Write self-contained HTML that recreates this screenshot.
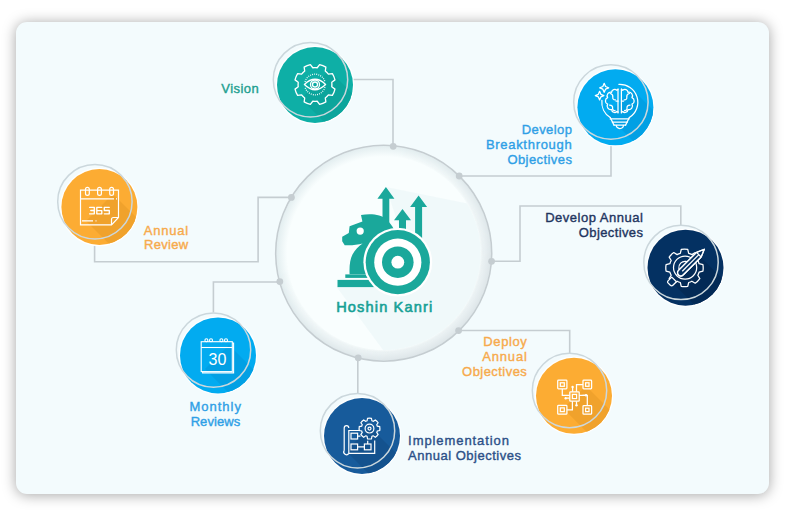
<!DOCTYPE html>
<html><head><meta charset="utf-8">
<style>
html,body{margin:0;padding:0;background:#ffffff;width:795px;height:521px;overflow:hidden;}
.card{position:absolute;left:16px;top:22.3px;width:753px;height:471.5px;border-radius:11px;background:#f3fbfd;box-shadow:0 1px 14px rgba(0,0,0,0.36);}
svg{position:absolute;left:0;top:0;}
text{font-family:"Liberation Sans",sans-serif;font-size:13px;stroke-width:0.38px;}
</style></head>
<body>
<div class="card"></div>
<svg width="795" height="521" viewBox="0 0 795 521">
<defs>

<clipPath id="cc"><circle cx="383.7" cy="253.2" r="97"/></clipPath>
<clipPath id="c_vision"><circle cx="315" cy="85" r="38"/></clipPath>
<clipPath id="c_brk"><circle cx="615.4" cy="107.3" r="38"/></clipPath>
<clipPath id="c_aobj"><circle cx="685.5" cy="267.7" r="38"/></clipPath>
<clipPath id="c_deploy"><circle cx="574" cy="395.8" r="38"/></clipPath>
<clipPath id="c_impl"><circle cx="362" cy="436" r="38"/></clipPath>
<clipPath id="c_monthly"><circle cx="218" cy="355.4" r="38"/></clipPath>
<clipPath id="c_annual"><circle cx="99.4" cy="207" r="38"/></clipPath>
<filter id="ish" x="-20%" y="-20%" width="140%" height="140%"><feDropShadow dx="1.8" dy="1.5" stdDeviation="3" flood-color="#5a7a86" flood-opacity="0.32"/></filter>
</defs>
<g fill="none" stroke="#c5cdd1" stroke-width="1.6">
  <polyline points="347,79.5 393,79.5 393,146"/>
  <polyline points="611,139.7 611,176 459,176"/>
  <polyline points="680.8,225 680.8,206 520,206 520,261.3 491.5,261.3"/>
  <polyline points="569.7,353 569.7,330.5 458.5,330.5"/>
  <polyline points="357.8,394 357.8,358"/>
  <polyline points="213.4,312.5 213.4,282 279.8,282"/>
  <polyline points="94.6,239 94.6,261.8 258.1,261.8 258.1,197.4 291.5,197.4"/>
</g>
<radialGradient id="cg" cx="383.7" cy="253.2" r="107.2" gradientUnits="userSpaceOnUse"><stop offset="0" stop-color="#f9fefe"/><stop offset="0.9" stop-color="#f9fefe"/><stop offset="0.95" stop-color="#eef6f7"/><stop offset="1" stop-color="#e3eef0"/></radialGradient>
<radialGradient id="cg2" cx="383.7" cy="253.2" r="107.2" gradientUnits="userSpaceOnUse"><stop offset="0" stop-color="#dfe6e8" stop-opacity="0"/><stop offset="0.9" stop-color="#dfe6e8" stop-opacity="0"/><stop offset="0.935" stop-color="#e9f0f2" stop-opacity="1"/><stop offset="1" stop-color="#dee6e9" stop-opacity="1"/></radialGradient>
<linearGradient id="lg" x1="0" y1="0" x2="1" y2="1"><stop offset="0.3" stop-color="#fff" stop-opacity="0"/><stop offset="0.75" stop-color="#fff" stop-opacity="1"/></linearGradient>
<mask id="mk" maskContentUnits="userSpaceOnUse"><rect x="276" y="146" width="216" height="216" fill="url(#lg)"/></mask>
<circle cx="383.7" cy="253.2" r="107.2" fill="url(#cg)"/>
<circle cx="383.7" cy="253.2" r="107.2" fill="url(#cg2)" mask="url(#mk)"/>
<polygon clip-path="url(#cc)" fill="#eef8f9" fill-opacity="0.85" points="386,187 520,214 520,420 400,373 336.5,286.7 380,280 400,230"/>
<circle cx="383.7" cy="253.2" r="108" fill="none" stroke="#c5cdd1" stroke-width="1.6"/>
<g fill="#c5cdd1">
<circle cx="393.2" cy="146.3" r="3.4"/>
<circle cx="459.2" cy="176" r="3.4"/>
<circle cx="491.6" cy="261.3" r="3.4"/>
<circle cx="458.6" cy="330.6" r="3.4"/>
<circle cx="358.2" cy="357.8" r="3.4"/>
<circle cx="279.8" cy="281.6" r="3.4"/>
<circle cx="291.4" cy="197.4" r="3.4"/>
</g>
<circle cx="315" cy="85" r="38.6" fill="#ffffff" stroke="#ffffff" stroke-width="1.2" stroke-opacity="0.9"/>
<circle cx="315" cy="85" r="38" fill="#0eafa6"/>
<polygon clip-path="url(#c_vision)" fill="#0ca59c" points="329.14,70.36 449.14,190.36 420.86,218.64 300.86,98.64"/>
<circle cx="615.4" cy="107.3" r="38.6" fill="#ffffff" stroke="#ffffff" stroke-width="1.2" stroke-opacity="0.9"/>
<circle cx="615.4" cy="107.3" r="38" fill="#02abf0"/>
<polygon clip-path="url(#c_brk)" fill="#02a0e4" points="632.53,89.57 752.53,209.57 727.07,235.03 607.07,115.03"/>
<circle cx="685.5" cy="267.7" r="38.6" fill="#ffffff" stroke="#ffffff" stroke-width="1.2" stroke-opacity="0.9"/>
<circle cx="685.5" cy="267.7" r="38" fill="#043162"/>
<polygon clip-path="url(#c_aobj)" fill="#032a56" points="697.94,254.46 817.94,374.46 791.06,401.34 671.06,281.34"/>
<circle cx="574" cy="395.8" r="38.6" fill="#ffffff" stroke="#ffffff" stroke-width="1.2" stroke-opacity="0.9"/>
<circle cx="574" cy="395.8" r="38" fill="#fcac33"/>
<polygon clip-path="url(#c_deploy)" fill="#f0a22c" points="585.91,385.89 705.91,505.89 683.29,528.51 563.29,408.51"/>
<circle cx="362" cy="436" r="38.6" fill="#ffffff" stroke="#ffffff" stroke-width="1.2" stroke-opacity="0.9"/>
<circle cx="362" cy="436" r="38" fill="#175b9b"/>
<polygon clip-path="url(#c_impl)" fill="#14528e" points="370.02,426.98 490.02,546.98 465.98,571.02 345.98,451.02"/>
<circle cx="218" cy="355.4" r="38.6" fill="#ffffff" stroke="#ffffff" stroke-width="1.2" stroke-opacity="0.9"/>
<circle cx="218" cy="355.4" r="38" fill="#02abf0"/>
<polygon clip-path="url(#c_monthly)" fill="#02a0e4" points="229.02,344.98 349.02,464.98 324.98,489.02 204.98,369.02"/>
<circle cx="99.4" cy="207" r="38.6" fill="#ffffff" stroke="#ffffff" stroke-width="1.2" stroke-opacity="0.9"/>
<circle cx="99.4" cy="207" r="38" fill="#fcac33"/>
<polygon clip-path="url(#c_annual)" fill="#f0a22c" points="112.94,194.06 232.94,314.06 206.06,340.94 86.06,220.94"/>
<g fill="none" stroke="#cbd7dc" stroke-width="1.5">
<circle cx="310.50" cy="79.70" r="37.2"/>
<circle cx="610.90" cy="102.00" r="37.2"/>
<circle cx="681.00" cy="262.40" r="37.2"/>
<circle cx="569.50" cy="390.50" r="37.2"/>
<circle cx="357.50" cy="430.70" r="37.2"/>
<circle cx="213.50" cy="350.10" r="37.2"/>
<circle cx="94.90" cy="201.70" r="37.2"/>
</g>
<g fill="none" stroke="#ffffff" stroke-width="1.3" stroke-linejoin="round"><path d="M317.21,67.74L319.61,64.53A20.50,20.50 0 0 1 325.86,67.12L325.29,71.09A16.90,16.90 0 0 1 328.41,74.21L332.38,73.64A20.50,20.50 0 0 1 334.97,79.89L331.76,82.29A16.90,16.90 0 0 1 331.76,86.71L334.97,89.11A20.50,20.50 0 0 1 332.38,95.36L328.41,94.79A16.90,16.90 0 0 1 325.29,97.91L325.86,101.88A20.50,20.50 0 0 1 319.61,104.47L317.21,101.26A16.90,16.90 0 0 1 312.79,101.26L310.39,104.47A20.50,20.50 0 0 1 304.14,101.88L304.71,97.91A16.90,16.90 0 0 1 301.59,94.79L297.62,95.36A20.50,20.50 0 0 1 295.03,89.11L298.24,86.71A16.90,16.90 0 0 1 298.24,82.29L295.03,79.89A20.50,20.50 0 0 1 297.62,73.64L301.59,74.21A16.90,16.90 0 0 1 304.71,71.09L304.14,67.12A20.50,20.50 0 0 1 310.39,64.53L312.79,67.74A16.90,16.90 0 0 1 317.21,67.74 Z"/><path d="M304.40,84.50 Q315.00,74.00 325.60,84.50 Q315.00,95.00 304.40,84.50 Z"/><circle cx="315.00" cy="84.50" r="4.5"/><circle cx="315.00" cy="84.50" r="2.5"/><path stroke-dasharray="0.9 1.2" d="M305.05,81.83 A10.30,10.30 0 0 1 324.95,81.83 M324.95,87.17 A10.30,10.30 0 0 1 305.05,87.17"/></g>
<g fill="none" stroke="#ffffff" stroke-width="1.25" stroke-linejoin="round" stroke-linecap="round"><path d="M618.86,84.32 A18.00,18.00 0 0 1 629.34,117.56"/><path d="M610.26,117.56 A18.00,18.00 0 0 1 601.90,100.42"/><path d="M610.26,117.56 L614.00,125.10 M629.34,117.56 L625.60,125.10"/><path d="M610.20,118.90 H629.00 M612.40,122.20 H627.20 M614.00,125.10 H625.60"/><path d="M616.20,125.30 A3.6,3.2 0 0 0 623.40,125.30"/><path d="M618.00,89.00 V112.90 M621.40,89.00 V112.90"/><path d="M618.10,89.10 L616.90,90.30 A3.05,3.05 0 0 0 611.63,92.32 A3.58,3.58 0 0 0 607.64,97.62 A3.54,3.54 0 0 0 607.64,104.18 A3.58,3.58 0 0 0 611.63,109.48 A3.05,3.05 0 0 0 616.90,111.50 L618.10,112.10"/><path d="M621.50,89.10 L622.70,90.30 A3.05,3.05 0 0 1 627.97,92.32 A3.58,3.58 0 0 1 631.96,97.62 A3.54,3.54 0 0 1 631.96,104.18 A3.58,3.58 0 0 1 627.97,109.48 A3.05,3.05 0 0 1 622.70,111.50 L621.50,112.10"/><path d="M610.20,93.50 Q613.20,94.10 612.80,97.10 Q612.40,99.70 615.40,99.90"/><path d="M609.60,105.10 Q613.00,105.30 612.60,108.30 Q612.40,110.70 615.00,110.50"/><path d="M618.10,101.10 H616.00"/><path d="M629.40,93.50 Q626.40,94.10 626.80,97.10 Q627.20,99.70 624.20,99.90"/><path d="M630.00,105.10 Q626.60,105.30 627.00,108.30 Q627.20,110.70 624.60,110.50"/><path d="M621.50,101.10 H623.60"/></g>
<g fill="none" stroke="#ffffff" stroke-width="1.25" stroke-linejoin="round"><path d="M604.20,83.30 L605.54,86.46 L608.70,87.80 L605.54,89.14 L604.20,92.30 L602.86,89.14 L599.70,87.80 L602.86,86.46Z"/><path d="M599.60,91.30 L600.87,94.33 L603.90,95.60 L600.87,96.87 L599.60,99.90 L598.33,96.87 L595.30,95.60 L598.33,94.33Z"/></g>
<g fill="none" stroke="#ffffff" stroke-width="1.25" stroke-linejoin="round"><path d="M680.31,253.29L681.25,249.48A18.70,18.70 0 0 1 687.75,249.48L688.69,253.29A15.20,15.20 0 0 1 691.87,254.61L695.23,252.58A18.70,18.70 0 0 1 699.82,257.17L697.79,260.53A15.20,15.20 0 0 1 699.11,263.71L702.92,264.65A18.70,18.70 0 0 1 702.92,271.15L699.11,272.09A15.20,15.20 0 0 1 697.79,275.27L699.82,278.63A18.70,18.70 0 0 1 695.23,283.22L691.87,281.19A15.20,15.20 0 0 1 688.69,282.51L687.75,286.32A18.70,18.70 0 0 1 681.25,286.32L680.31,282.51A15.20,15.20 0 0 1 677.13,281.19L673.77,283.22A18.70,18.70 0 0 1 669.18,278.63L671.21,275.27A15.20,15.20 0 0 1 669.89,272.09L666.08,271.15A18.70,18.70 0 0 1 666.08,264.65L669.89,263.71A15.20,15.20 0 0 1 671.21,260.53L669.18,257.17A18.70,18.70 0 0 1 673.77,252.58L677.13,254.61A15.20,15.20 0 0 1 680.31,253.29 Z"/><circle cx="685.10" cy="267.60" r="11.6"/><path d="M681.95,273.06 A6.30,6.30 0 1 1 690.56,264.45"/><path fill="#043162" d="M678.49,270.37 L696.52,252.34 L704.30,249.23 L701.19,257.01 L683.16,275.04 A3.30,3.30 0 0 1 678.49,270.37 Z"/><path d="M678.49,270.37 L696.52,252.34 M683.16,275.04 L701.19,257.01"/><path d="M683.16,275.04 A3.30,3.30 0 0 1 678.49,270.37"/><path d="M682.24,271.29 L698.85,254.68"/><path d="M696.52,252.34 L704.30,249.23 L701.19,257.01"/><path d="M696.52,252.34 L701.19,257.01"/><path fill="#043162" d="M671.77,277.09 L668.24,280.63 Q666.96,281.90 668.24,283.17 L670.36,285.29 Q671.63,286.57 672.90,285.29 L676.44,281.76 Z"/></g>
<g fill="none" stroke="#ffffff" stroke-width="1.25"><rect x="557.70" y="380.20" width="9.20" height="8.70" rx="0.8"/><rect x="560.30" y="382.80" width="4.00" height="3.50"/><rect x="583.00" y="380.20" width="8.60" height="8.70" rx="0.8"/><rect x="585.60" y="382.80" width="3.40" height="3.50"/><rect x="557.70" y="405.30" width="9.20" height="8.90" rx="0.8"/><rect x="560.30" y="407.90" width="4.00" height="3.70"/><rect x="583.00" y="405.60" width="8.60" height="8.60" rx="0.8"/><rect x="585.60" y="408.20" width="3.40" height="3.40"/><rect x="569.80" y="391.80" width="9.40" height="9.40" rx="0.8"/><rect x="572.40" y="394.40" width="4.20" height="4.20"/><path d="M562.3,388.9 V395.3 H569.8 M583,384.5 H576.5 V391.8 M566.9,409.8 H572.4 V401.2 M587.3,405.6 V395.3 H579.2"/><path d="M572.6,391.8 V387.8 M585,395.3 H582.5 M569.8,398.2 H566.5 M576.5,401.2 V404.5"/></g>
<g fill="#ffffff"><circle cx="572.6" cy="387" r="1.2"/><circle cx="586" cy="395.3" r="1.2"/><circle cx="565.7" cy="398.2" r="1.2"/><circle cx="576.5" cy="405.3" r="1.2"/></g>
<g fill="none" stroke="#ffffff" stroke-width="1.2"><path d="M348.8,453.4 H374.7 V440.5" /><path d="M348.8,453.4 V430.5 H360"/><path d="M344.2,450.5 V428 A2.3,2.3 0 0 1 348.8,428 M344.2,450.5 A2.6,2.6 0 0 0 348.8,453.4"/><rect x="351" y="433.2" width="6.6" height="5.8"/><rect x="351" y="444" width="6.6" height="5.8"/><rect x="364.4" y="444" width="6.6" height="5.8"/><path d="M357.6,436.1 H360.5 M357.6,446.9 H364.4 M367.7,444 V440.8"/><path d="M367.10,420.76L367.52,418.39A10.40,10.40 0 0 1 371.48,418.39L371.90,420.76A8.20,8.20 0 0 1 373.35,421.36L375.32,419.98A10.40,10.40 0 0 1 378.12,422.78L376.74,424.75A8.20,8.20 0 0 1 377.34,426.20L379.71,426.62A10.40,10.40 0 0 1 379.71,430.58L377.34,431.00A8.20,8.20 0 0 1 376.74,432.45L378.12,434.42A10.40,10.40 0 0 1 375.32,437.22L373.35,435.84A8.20,8.20 0 0 1 371.90,436.44L371.48,438.81A10.40,10.40 0 0 1 367.52,438.81L367.10,436.44A8.20,8.20 0 0 1 365.65,435.84L363.68,437.22A10.40,10.40 0 0 1 360.88,434.42L362.26,432.45A8.20,8.20 0 0 1 361.66,431.00L359.29,430.58A10.40,10.40 0 0 1 359.29,426.62L361.66,426.20A8.20,8.20 0 0 1 362.26,424.75L360.88,422.78A10.40,10.40 0 0 1 363.68,419.98L365.65,421.36A8.20,8.20 0 0 1 367.10,420.76 Z"/><circle cx="369.5" cy="428.6" r="4.4"/><circle cx="369.5" cy="428.6" r="1.5"/></g>
<g fill="none" stroke="#ffffff" stroke-width="1.1"><path d="M232.3,343 H233.6 V372.9 H202.6 V371.6"/><rect x="201.2" y="341.7" width="31.1" height="29.9"/><path d="M201.2,347.5 H232.3"/><circle cx="206.4" cy="340.3" r="1.5"/><circle cx="211" cy="340.3" r="1.5"/><circle cx="221.4" cy="340.3" r="1.5"/><circle cx="226" cy="340.3" r="1.5"/></g>
<text x="217.4" y="364.7" fill="#ffffff" text-anchor="middle" style="font-size:16px;letter-spacing:0;stroke-width:0">30</text>
<g fill="none" stroke="#ffffff" stroke-width="1.2"><path d="M80.5,190.2 H118.5 V217.5 L111.5,224.8 H80.5 Z"/><path d="M111.5,224.8 V219.5 Q111.5,217.5 113.5,217.5 H118.5"/><path d="M81,198.9 H114 M116,198.9 H117"/><path d="M82,220.8 H93 M95.5,220.8 H96.5"/><rect x="85.50" y="187.3" width="3.8" height="8" rx="1.9"/><rect x="97.60" y="187.3" width="3.8" height="8" rx="1.9"/><rect x="109.70" y="187.3" width="3.8" height="8" rx="1.9"/></g>
<path fill="none" stroke="#ffffff" stroke-width="1.35" stroke-linejoin="round" stroke-linecap="round" d="M89.6,207.3 H94.3 V213.8 H89.6 M90.8,210.5 H94.3 M101.8,207.3 H96.8 V213.8 H101.8 V210.6 H96.8 M109.3,207.3 H104.3 V210.5 H109.3 V213.8 H104.3"/>
<g fill="#1aa89b"><path d="M385.90,187.00 L394.40,198.80 H389.30 V225.00 H382.50 V198.80 H377.40 Z"/><path d="M402.50,208.90 L411.00,220.30 H406.00 V232.00 H399.00 V220.30 H394.00 Z"/><path d="M418.60,195.50 L427.10,206.90 H422.10 V240.00 H415.10 V206.90 H410.10 Z"/><path d="M361,215.1 C370,213.6 381,214 387,220 C393,226 396,232 397,240 L396,274.3 H349.6 C349.2,266 350,259.5 352.5,254.5 C354.5,250.5 358.5,246.5 362.6,243.6 C357,245.2 350,245.6 344.7,245.2 L342.2,241.2 L342.2,236.8 L348.8,233 L349.6,226.2 L362.4,221.5 Z"/><rect x="345.3" y="274.4" width="24" height="3.5"/><rect x="337.5" y="279.9" width="37" height="7.2"/></g>
<circle cx="360.2" cy="231.1" r="3.6" fill="#ffffff"/>
<circle cx="397.8" cy="262.2" r="34.4" fill="#ffffff"/>
<circle cx="397.8" cy="262.2" r="32.1" fill="#1aa89b"/>
<circle cx="397.8" cy="262.2" r="23.6" fill="#ffffff"/>
<circle cx="397.8" cy="262.2" r="15.8" fill="#1aa89b"/>
<circle cx="397.8" cy="262.2" r="6.4" fill="#ffffff"/>
<text x="221.30" y="92.70" fill="#1d9f90" stroke="#1d9f90" text-anchor="start" textLength="37.40" lengthAdjust="spacing">Vision</text>
<text x="571.90" y="134.00" fill="#2f9fe6" stroke="#2f9fe6" text-anchor="end" textLength="50.10" lengthAdjust="spacing">Develop</text>
<text x="571.70" y="149.00" fill="#2f9fe6" stroke="#2f9fe6" text-anchor="end" textLength="85.80" lengthAdjust="spacing">Breakthrough</text>
<text x="571.90" y="164.10" fill="#2f9fe6" stroke="#2f9fe6" text-anchor="end" textLength="64.50" lengthAdjust="spacing">Objectives</text>
<text x="642.80" y="222.20" fill="#1f355f" stroke="#1f355f" text-anchor="end" textLength="97.60" lengthAdjust="spacing">Develop Annual</text>
<text x="642.90" y="237.00" fill="#1f355f" stroke="#1f355f" text-anchor="end" textLength="64.10" lengthAdjust="spacing">Objectives</text>
<text x="526.80" y="345.90" fill="#f7aa4c" stroke="#f7aa4c" text-anchor="end" textLength="43.50" lengthAdjust="spacing">Deploy</text>
<text x="526.80" y="361.00" fill="#f7aa4c" stroke="#f7aa4c" text-anchor="end" textLength="44.50" lengthAdjust="spacing">Annual</text>
<text x="526.80" y="376.10" fill="#f7aa4c" stroke="#f7aa4c" text-anchor="end" textLength="64.70" lengthAdjust="spacing">Objectives</text>
<text x="408.10" y="445.30" fill="#2c5088" stroke="#2c5088" text-anchor="start" textLength="100.90" lengthAdjust="spacing">Implementation</text>
<text x="408.10" y="460.10" fill="#2c5088" stroke="#2c5088" text-anchor="start" textLength="112.90" lengthAdjust="spacing">Annual Objectives</text>
<text x="215.20" y="410.60" fill="#2f9fe6" stroke="#2f9fe6" text-anchor="middle" textLength="51.60" lengthAdjust="spacing">Monthly</text>
<text x="215.40" y="426.00" fill="#2f9fe6" stroke="#2f9fe6" text-anchor="middle" textLength="49.50" lengthAdjust="spacing">Reviews</text>
<text x="143.70" y="234.60" fill="#f7aa4c" stroke="#f7aa4c" text-anchor="start" textLength="44.40" lengthAdjust="spacing">Annual</text>
<text x="144.10" y="249.10" fill="#f7aa4c" stroke="#f7aa4c" text-anchor="start" textLength="44.00" lengthAdjust="spacing">Review</text>
<text x="336.2" y="311.8" fill="#17a196" stroke="#17a196" textLength="96" lengthAdjust="spacing" style="font-size:14.6px;stroke-width:0.6px">Hoshin Kanri</text>
</svg>
</body></html>
